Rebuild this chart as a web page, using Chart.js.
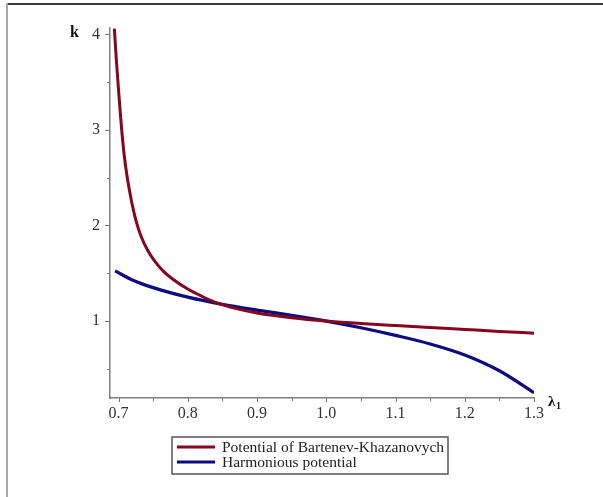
<!DOCTYPE html>
<html>
<head>
<meta charset="utf-8">
<script src="https://cdn.jsdelivr.net/npm/chart.js@4.4.1/dist/chart.umd.min.js"></script>
<style>
  html, body { margin: 0; padding: 0; background: #fff; }
  #wrap { position: relative; width: 603px; height: 497px; }
  #frameTop { position: absolute; left: 6px; top: 3px; width: 597px; height: 2px; background: #3a3a3a; }
  #frameLeft { position: absolute; left: 6px; top: 3px; width: 2px; height: 494px; background: #a8a8a8; }
  canvas { position: absolute; left: 0; top: 0; }
</style>
</head>
<body>
<div id="wrap">
  <canvas id="chart" width="603" height="497"></canvas>
  <div id="frameTop"></div>
  <div id="frameLeft"></div>
</div>
<script>
// values
const lambdaRed = [0.694, 0.697, 0.700, 0.704, 0.708, 0.712, 0.716, 0.720, 0.726, 0.733, 0.742, 0.752, 0.765, 0.78, 0.80, 0.82, 0.84, 0.87, 0.90, 0.95, 1.0, 1.05, 1.1, 1.15, 1.2, 1.25, 1.3];
const kRed = [4.06, 3.72, 3.42, 3.05, 2.75, 2.53, 2.36, 2.21, 2.03, 1.88, 1.74, 1.63, 1.52, 1.43, 1.335, 1.26, 1.195, 1.13, 1.085, 1.035, 1.0, 0.975, 0.953, 0.932, 0.912, 0.892, 0.873];

const lambdaBlue = [0.695, 0.72, 0.75, 0.8, 0.85, 0.9, 0.95, 1.0, 1.05, 1.1, 1.15, 1.2, 1.25, 1.3];
const kBlue = [1.525, 1.43, 1.35, 1.25, 1.175, 1.115, 1.06, 1.0, 0.93, 0.85, 0.76, 0.645, 0.48, 0.25];

const seriesNames = ["Potential of Bartenev-Khazanovych", "Harmonious potential"];
const seriesColors = ["#84061f", "#0c0c80"];

const serif = "'Liberation Serif', 'DejaVu Serif', serif";

function toPoints(xs, ys) {
  return xs.map((x, i) => ({ x: x, y: ys[i] }));
}

function isWhole(v, step) {
  const r = v / step;
  return Math.abs(r - Math.round(r)) < 1e-6;
}

// ticks, axis names and boxed legend drawn by hand
const extras = {
  id: "extras",
  afterDraw(chart) {
    const ctx = chart.ctx;
    const xs = chart.scales.x;
    const ys = chart.scales.y;
    const area = chart.chartArea;
    ctx.save();
    ctx.strokeStyle = "#777";
    ctx.lineWidth = 1;
    xs.ticks.forEach((t) => {
      const px = Math.round(xs.getPixelForValue(t.value)) + 0.5;
      const len = isWhole(t.value, 0.1) ? 4 : 3;
      ctx.beginPath();
      ctx.moveTo(px, area.bottom);
      ctx.lineTo(px, area.bottom + len);
      ctx.stroke();
    });
    ys.ticks.forEach((t) => {
      const py = Math.round(ys.getPixelForValue(t.value)) + 0.5;
      const len = isWhole(t.value, 1) ? 5 : 3;
      ctx.beginPath();
      ctx.moveTo(area.left, py);
      ctx.lineTo(area.left - len, py);
      ctx.stroke();
    });

    // axis names
    ctx.fillStyle = "#111";
    ctx.textBaseline = "alphabetic";
    ctx.font = "bold 16px " + serif;
    ctx.fillText("k", 70, 37);
    ctx.font = "bold 15px " + serif;
    ctx.fillText("λ", 548, 406);
    ctx.font = "bold 10px " + serif;
    ctx.fillText("1", 556, 409);

    // legend
    const bx = 172, by = 437, bw = 276, bh = 37;
    ctx.strokeStyle = "#555";
    ctx.lineWidth = 1.5;
    ctx.strokeRect(bx, by, bw, bh);
    ctx.font = "15.5px " + serif;
    ctx.textBaseline = "middle";
    seriesNames.forEach((name, i) => {
      const ly = by + 10 + i * 15;
      ctx.strokeStyle = seriesColors[i];
      ctx.lineWidth = 3;
      ctx.beginPath();
      ctx.moveTo(177, ly);
      ctx.lineTo(215, ly);
      ctx.stroke();
      ctx.fillStyle = "#222";
      ctx.fillText(name, 222, ly + 1);
    });
    ctx.restore();
  }
};

new Chart(document.getElementById("chart"), {
  type: "line",
  data: {
    datasets: [
      {
        label: seriesNames[0],
        data: toPoints(lambdaRed, kRed),
        borderColor: seriesColors[0],
        borderWidth: 3,
        pointRadius: 0,
        cubicInterpolationMode: "monotone",
        fill: false
      },
      {
        label: seriesNames[1],
        data: toPoints(lambdaBlue, kBlue),
        borderColor: seriesColors[1],
        borderWidth: 3.2,
        pointRadius: 0,
        cubicInterpolationMode: "monotone",
        fill: false
      }
    ]
  },
  options: {
    responsive: false,
    animation: false,
    layout: { padding: { left: 0, right: 69, top: 28, bottom: 0 } },
    plugins: {
      legend: { display: false },
      tooltip: { enabled: false }
    },
    scales: {
      x: {
        type: "linear",
        min: 0.6877,
        max: 1.3,
        grid: { display: false },
        border: { display: true, color: "#808080", width: 1.5 },
        ticks: {
          stepSize: 0.05,
          includeBounds: false,
          autoSkip: false,
          maxRotation: 0,
          padding: -2,
          color: "#333",
          font: { family: serif, size: 16 },
          callback: (v) => (isWhole(v, 0.1) ? Number(v).toFixed(1) : "")
        },
        afterFit: (s) => { s.height = 99; }
      },
      y: {
        min: 0.195,
        max: 4.066,
        grid: { display: false },
        border: { display: true, color: "#808080", width: 1.5 },
        ticks: {
          stepSize: 0.5,
          includeBounds: false,
          autoSkip: false,
          padding: 2,
          color: "#333",
          font: { family: serif, size: 16 },
          callback: (v) => (isWhole(v, 1) ? String(Math.round(v)) : "")
        },
        afterFit: (s) => { s.width = 110; }
      }
    }
  },
  plugins: [extras]
});
</script>
</body>
</html>
